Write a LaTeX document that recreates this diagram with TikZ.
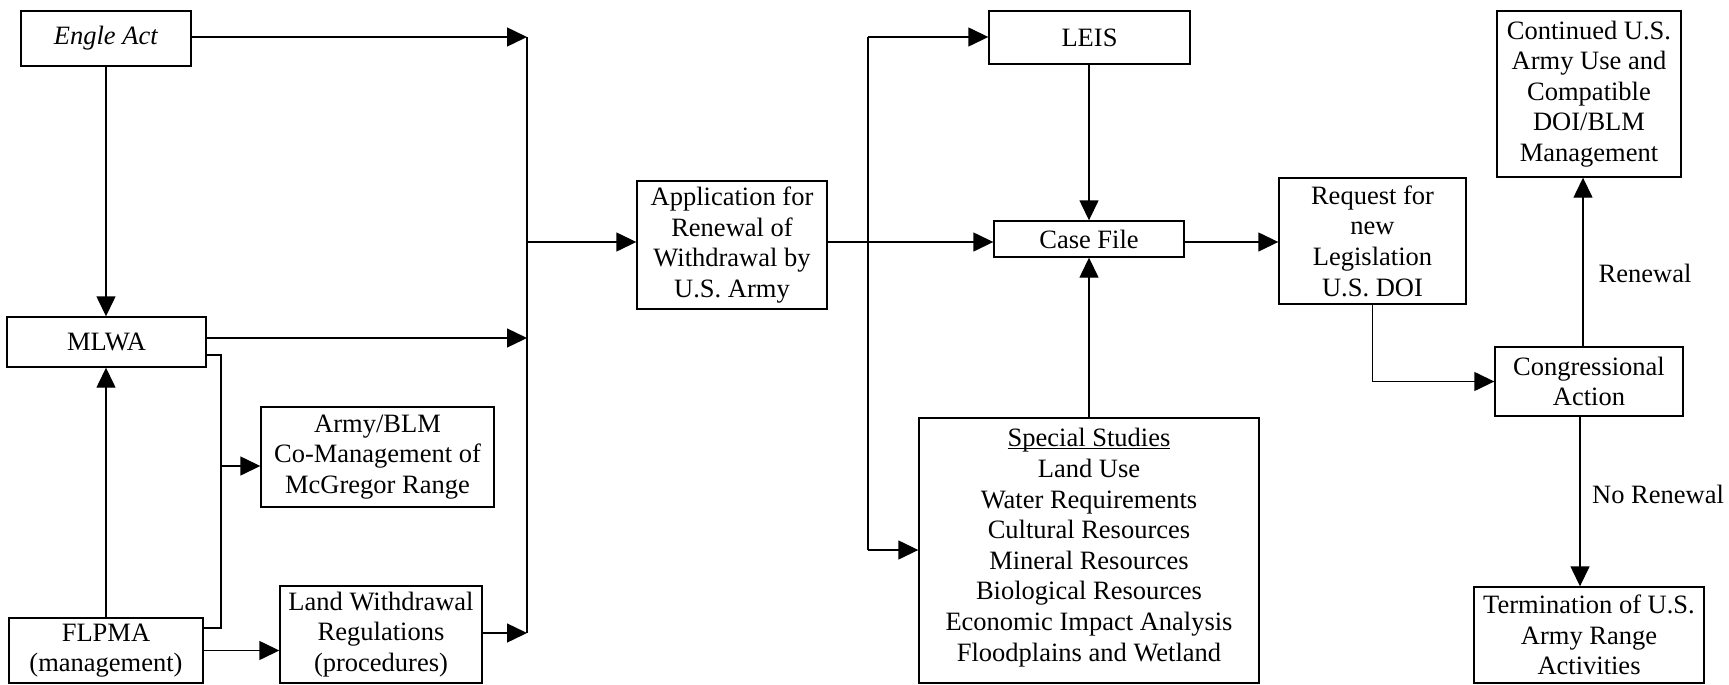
\documentclass[tikz,border=0pt]{standalone}
\usepackage{fontspec}
\setmainfont{Liberation Serif}
\usetikzlibrary{arrows.meta}
\begin{document}
\begin{tikzpicture}[x=1pt,y=-1pt,
  box/.style={draw, line width=1.4pt, inner sep=0pt, align=center, font=\fontsize{26.5}{30.6}\selectfont},
  lbl/.style={inner sep=0pt, font=\fontsize{26.5}{30.6}\selectfont},
  arr/.style={line width=1.4pt, -{Triangle[length=20pt,width=19pt]}},
  ln/.style={line width=1.4pt}]
\useasboundingbox (0,0) rectangle (1729,685);
% nodes
\node[box, minimum width=170pt, minimum height=55pt] (engle) at (106,38.5) {\textit{Engle Act}};
\node[box, minimum width=199pt, minimum height=50pt] (mlwa) at (106.5,342) {MLWA};
\node[box, minimum width=233pt, minimum height=100pt] (army) at (377.5,457) {Army/BLM\\Co-Management of\\McGregor Range};
\node[box, minimum width=194pt, minimum height=65pt] (flpma) at (106,650.5) {FLPMA\\(management)};
\node[box, minimum width=202pt, minimum height=97pt] (lw) at (381,634.5) {Land Withdrawal\\Regulations\\(procedures)};
\node[box, minimum width=190pt, minimum height=128pt] (app) at (732,245) {Application for\\Renewal of\\Withdrawal by\\U.S. Army};
\node[box, minimum width=201pt, minimum height=53pt] (leis) at (1089.5,37.5) {LEIS};
\node[box, minimum width=190pt, minimum height=36pt] (cf) at (1089,239) {Case File};
\node[box, minimum width=340pt, minimum height=265pt] (special) at (1089,550.5) {\underline{\smash{Special Studies}}\vphantom{p}\\Land Use\\Water Requirements\\Cultural Resources\\Mineral Resources\\Biological Resources\\Economic Impact Analysis\\Floodplains and Wetland};
\node[box, minimum width=187pt, minimum height=126pt] (req) at (1372.5,241) {Request for\\new\\Legislation\\U.S. DOI};
\node[box, minimum width=184pt, minimum height=166pt] (cont) at (1589,94) {Continued U.S.\\Army Use and\\Compatible\\DOI/BLM\\Management};
\node[box, minimum width=188pt, minimum height=69pt] (cong) at (1589,381.5) {Congressional\\Action};
\node[box, minimum width=230pt, minimum height=96pt] (term) at (1589,635) {Termination of U.S.\\Army Range\\Activities};
\node[lbl] (renew) at (1645,273) {Renewal};
\node[lbl] (norenew) at (1658,494) {No Renewal};
% coordinates
\coordinate (bA) at (527,37);
\coordinate (bM) at (527,338);
\coordinate (bC) at (527,242);
\coordinate (bB) at (527,633);
\coordinate (brT) at (221,355);
\coordinate (brM) at (221,466);
\coordinate (brB) at (221,628);
\coordinate (spT) at (868,37);
\coordinate (spB) at (868,550);
% connectors
\draw[arr] (engle.east |- bA) -- (bA);
\draw[arr] (engle.south) -- (engle.south |- mlwa.north);
\draw[arr] (mlwa.east |- bM) -- (bM);
\draw[ln] (bA) -- (bB);
\draw[arr] (bC) -- (bC -| app.west);
\draw[ln] (mlwa.east |- brT) -- (brT) -- (brB) -- (brB -| flpma.east);
\draw[arr] (brM) -- (brM -| army.west);
\draw[arr] (flpma.north) -- (flpma.north |- mlwa.south);
\draw[arr] (flpma.east) -- (flpma.east -| lw.west);
\draw[arr] (lw.east |- bB) -- (bB);
\draw[arr] (app.east |- bC) -- (cf.west |- bC);
\draw[ln] (spT) -- (spB);
\draw[arr] (spT) -- (spT -| leis.west);
\draw[arr] (spB) -- (spB -| special.west);
\draw[arr] (leis.south -| cf.north) -- (cf.north);
\draw[arr] (special.north) -- (cf.south);
\draw[arr] (cf.east |- bC) -- (req.west |- bC);
\draw[arr] (req.south) -- (req.south |- cong.west) -- (cong.west);
\draw[arr] ([xshift=-6pt]cong.north) -- ([xshift=-6pt]cont.south);
\draw[arr] ([xshift=-9pt]cong.south) -- ([xshift=-9pt]term.north);
\end{tikzpicture}
\end{document}
